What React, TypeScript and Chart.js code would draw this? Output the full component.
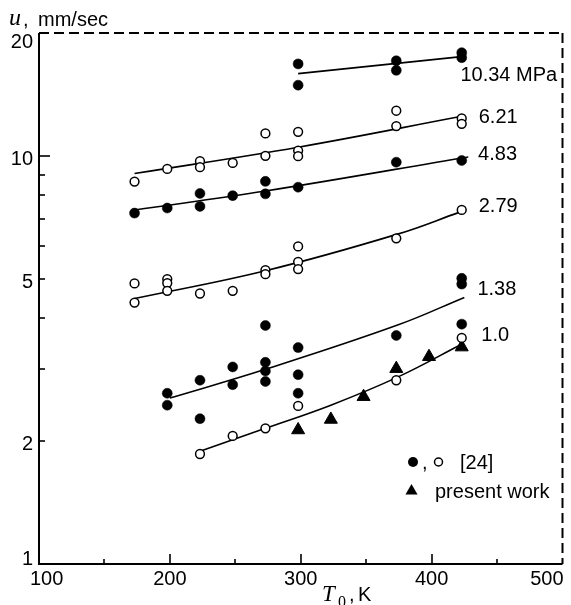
import React, { useEffect, useRef } from 'react';
import { Chart, registerables } from 'chart.js';

Chart.register(...registerables);

// ---- axis ticks ----
const xTickLabels = [100, 200, 300, 400, 500];
const xMajorInner = [200, 300, 400];
const xMinorInner = [150, 250, 350, 450];
const yTickLabels = [1, 2, 5, 10, 20];
const yMajorInner = [10];
const yMinorInner = [2, 3, 4, 5, 6, 7, 8, 9];

// ---- 10.34 MPa (filled) ----
const t1034 = [298, 298, 373, 373, 423, 423];
const u1034 = [16.8, 14.9, 17.1, 16.2, 17.9, 17.4];
const fitT1034 = [298, 423];
const fitU1034 = [15.9, 17.5];

// ---- 6.21 MPa (open) ----
const t621 = [173, 198, 223, 223, 248, 273, 273, 298, 298, 298, 373, 373, 423, 423];
const u621 = [8.65, 9.29, 9.7, 9.38, 9.61, 10.0, 11.35, 10.3, 9.98, 11.45, 12.9, 11.83, 12.35, 11.98];
const fitT621 = [173, 298, 423];
const fitU621 = [9.05, 10.5, 12.5];

// ---- 4.83 MPa (filled) ----
const t483 = [173, 198, 223, 223, 248, 273, 273, 298, 373, 423];
const u483 = [7.24, 7.45, 8.09, 7.52, 7.99, 8.66, 8.07, 8.38, 9.65, 9.74];
const fitT483 = [173, 273, 428];
const fitU483 = [7.37, 8.2, 9.94];

// ---- 2.79 MPa (open) ----
const t279 = [173, 173, 198, 198, 198, 223, 248, 273, 273, 298, 298, 298, 373, 423];
const u279 = [4.87, 4.37, 4.99, 4.88, 4.67, 4.6, 4.67, 5.25, 5.13, 6.0, 5.5, 5.28, 6.28, 7.37];
const fitT279 = [173, 273, 374, 421];
const fitU279 = [4.47, 5.23, 6.43, 7.27];

// ---- 1.38 MPa (filled) ----
const t138 = [198, 198, 223, 223, 248, 248, 273, 273, 273, 273, 298, 298, 298, 373, 423, 423, 423];
const u138 = [2.62, 2.45, 2.82, 2.27, 3.04, 2.75, 3.84, 3.12, 2.97, 2.8, 3.39, 2.91, 2.62, 3.63, 5.01, 4.85, 3.87];
const fitT138 = [200, 273, 374, 425];
const fitU138 = [2.55, 3.0, 3.85, 4.5];

// ---- 1.0 MPa (open) ----
const t10 = [223, 248, 273, 298, 373, 423];
const u10 = [1.86, 2.06, 2.15, 2.44, 2.82, 3.58];
const fitT10 = [223, 273, 323, 374, 424];
const fitU10 = [1.89, 2.15, 2.45, 2.87, 3.47];

// ---- present work (triangles) ----
const tTri = [298, 323, 348, 373, 398, 423];
const uTri = [2.13, 2.26, 2.57, 3.01, 3.22, 3.4];

// ---- pressure labels (anchored in data coordinates) ----
const pressureLabels = ['10.34 MPa', '6.21', '4.83', '2.79', '1.38', '1.0'];
const labelT = [422, 436, 435.5, 436, 435, 438];
const labelU = [15.75, 12.45, 10.1, 7.5, 4.71, 3.62];

const SANS = "'Liberation Sans', Arial, Helvetica, sans-serif";
const SERIF = "'Liberation Serif', 'Times New Roman', serif";

const pts = (xs: number[], ys: number[]) => xs.map((x, i) => ({ x, y: ys[i] }));

const filled = (xs: number[], ys: number[]) => ({
  type: 'scatter' as const,
  data: pts(xs, ys),
  pointStyle: 'circle',
  pointRadius: 5,
  backgroundColor: '#000',
  borderColor: '#000',
  borderWidth: 0.5,
  order: 0,
});

const open = (xs: number[], ys: number[]) => ({
  type: 'scatter' as const,
  data: pts(xs, ys),
  pointStyle: 'circle',
  pointRadius: 4.4,
  backgroundColor: '#fff',
  borderColor: '#000',
  borderWidth: 1.5,
  order: 0,
});

const fit = (xs: number[], ys: number[]) => ({
  type: 'line' as const,
  data: pts(xs, ys),
  showLine: true,
  pointRadius: 0,
  borderColor: '#000',
  borderWidth: 1.6,
  tension: 0.4,
  fill: false,
  order: 5,
});

const overlayPlugin = {
  id: 'overlay',
  afterDraw(chart: any) {
    const ctx = chart.ctx as CanvasRenderingContext2D;
    const { left, right, top, bottom } = chart.chartArea;
    const xs = chart.scales.x;
    const ys = chart.scales.y;
    ctx.save();
    ctx.strokeStyle = '#000';
    ctx.fillStyle = '#000';

    // axes frame
    ctx.lineWidth = 2;
    ctx.beginPath();
    ctx.moveTo(left, top);
    ctx.lineTo(left, bottom);
    ctx.lineTo(right, bottom);
    ctx.stroke();
    ctx.setLineDash([10, 5]);
    ctx.beginPath();
    ctx.moveTo(left, top);
    ctx.lineTo(right, top);
    ctx.stroke();
    ctx.beginPath();
    ctx.moveTo(right, top);
    ctx.lineTo(right, bottom);
    ctx.stroke();
    ctx.setLineDash([]);

    // inward ticks
    ctx.lineWidth = 1.6;
    const vline = (px: number, len: number) => {
      ctx.beginPath();
      ctx.moveTo(px, bottom);
      ctx.lineTo(px, bottom - len);
      ctx.stroke();
    };
    const hline = (py: number, len: number) => {
      ctx.beginPath();
      ctx.moveTo(left, py);
      ctx.lineTo(left + len, py);
      ctx.stroke();
    };
    xMajorInner.forEach((v) => vline(Math.round(xs.getPixelForValue(v)), 10));
    xMinorInner.forEach((v) => vline(Math.round(xs.getPixelForValue(v)), 5));
    yMajorInner.forEach((v) => hline(Math.round(ys.getPixelForValue(v)), 11));
    yMinorInner.forEach((v) => hline(Math.round(ys.getPixelForValue(v)), 6));

    // x tick labels
    ctx.font = `20px ${SANS}`;
    ctx.textBaseline = 'alphabetic';
    xTickLabels.forEach((v, i) => {
      const px = xs.getPixelForValue(v);
      if (i === 0) {
        ctx.textAlign = 'left';
        ctx.fillText(String(v), px - 9, 585);
      } else if (i === xTickLabels.length - 1) {
        ctx.textAlign = 'right';
        ctx.fillText(String(v), px + 1, 585);
      } else {
        ctx.textAlign = 'center';
        ctx.fillText(String(v), px, 585);
      }
    });

    // y tick labels
    ctx.textAlign = 'right';
    yTickLabels.forEach((v) => {
      const py = ys.getPixelForValue(v);
      let base = py + 9;
      if (base > bottom + 1) base = bottom + 1;
      if (base < top + 15) base = top + 15;
      ctx.fillText(String(v), 33, base);
    });

    // y axis title
    ctx.textAlign = 'left';
    ctx.font = `italic 24px ${SERIF}`;
    ctx.fillText('u', 9, 25);
    ctx.font = `20px ${SANS}`;
    ctx.fillText(',', 23, 26);
    ctx.fillText('mm/sec', 38, 26);

    // x axis title
    ctx.font = `italic 23px ${SERIF}`;
    ctx.fillText('T', 322, 601);
    ctx.font = `16px ${SERIF}`;
    ctx.fillText('0', 338, 607);
    ctx.font = `20px ${SANS}`;
    ctx.fillText(',', 349, 601);
    ctx.fillText('K', 358, 601);

    // pressure labels
    ctx.font = `20px ${SANS}`;
    ctx.textBaseline = 'middle';
    pressureLabels.forEach((s, i) => {
      ctx.fillText(s, xs.getPixelForValue(labelT[i]), ys.getPixelForValue(labelU[i]));
    });

    // legend
    ctx.textBaseline = 'alphabetic';
    ctx.beginPath();
    ctx.arc(413, 462, 5, 0, Math.PI * 2);
    ctx.fill();
    ctx.fillText(',', 422, 469);
    ctx.beginPath();
    ctx.lineWidth = 1.5;
    ctx.fillStyle = '#fff';
    ctx.arc(438.5, 462, 4, 0, Math.PI * 2);
    ctx.fill();
    ctx.stroke();
    ctx.fillStyle = '#000';
    ctx.fillText('[24]', 460, 469);
    const r = 7;
    const cx = 411.5;
    const cy = 491;
    ctx.beginPath();
    ctx.moveTo(cx, cy - r);
    ctx.lineTo(cx + r * Math.sin((2 * Math.PI) / 3), cy - r * Math.cos((2 * Math.PI) / 3));
    ctx.lineTo(cx + r * Math.sin((4 * Math.PI) / 3), cy - r * Math.cos((4 * Math.PI) / 3));
    ctx.closePath();
    ctx.fill();
    ctx.fillText('present work', 435, 498);

    ctx.restore();
  },
};

export default function App() {
  const ref = useRef<HTMLCanvasElement>(null);
  useEffect(() => {
    const chart = new Chart(ref.current!, {
      type: 'scatter',
      data: {
        datasets: [
          filled(t1034, u1034),
          open(t621, u621),
          filled(t483, u483),
          open(t279, u279),
          filled(t138, u138),
          open(t10, u10),
          {
            type: 'scatter',
            data: pts(tTri, uTri),
            pointStyle: 'triangle',
            pointRadius: 7.5,
            backgroundColor: '#000',
            borderColor: '#000',
            borderWidth: 1,
            order: 0,
          },
          fit(fitT1034, fitU1034),
          fit(fitT621, fitU621),
          fit(fitT483, fitU483),
          fit(fitT279, fitU279),
          fit(fitT138, fitU138),
          fit(fitT10, fitU10),
        ] as any,
      },
      options: {
        responsive: false,
        animation: false,
        devicePixelRatio: 1,
        events: [],
        layout: { padding: { left: 39, right: 3, top: 33, bottom: 41 } },
        scales: {
          x: { type: 'linear', min: 100, max: 500, display: false },
          y: { type: 'logarithmic', min: 1, max: 20, display: false },
        },
        plugins: {
          legend: { display: false },
          tooltip: { enabled: false },
          title: { display: false },
        },
      } as any,
      plugins: [overlayPlugin],
    });
    return () => chart.destroy();
  }, []);
  return (
    <div style={{ position: 'fixed', left: 0, top: 0, width: 571, height: 605, background: '#fff' }}>
      <canvas ref={ref} width={571} height={605} style={{ display: 'block', width: 571, height: 605 }} />
    </div>
  );
}
